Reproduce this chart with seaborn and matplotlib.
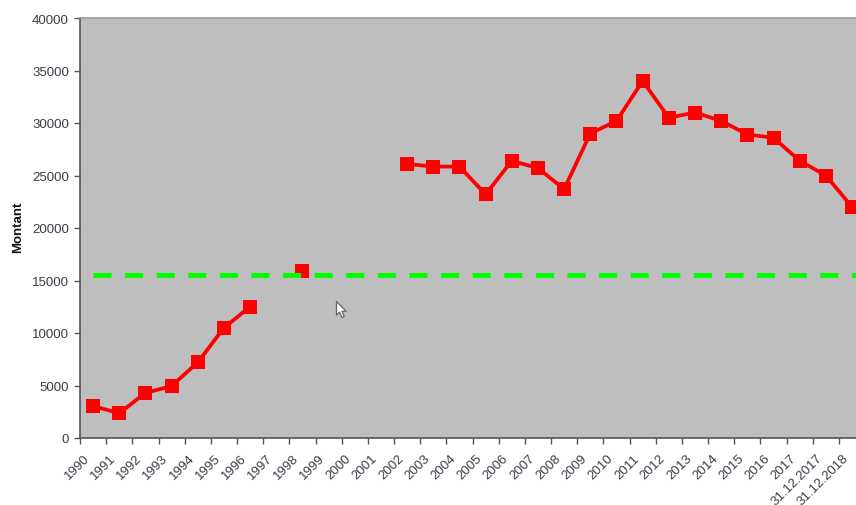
import numpy as np
import pandas as pd
import matplotlib
matplotlib.use("Agg")
import matplotlib.pyplot as plt
from matplotlib.path import Path
from matplotlib.ticker import MultipleLocator
from matplotlib.transforms import ScaledTranslation
import seaborn as sns

categories = [str(y) for y in range(1990, 2018)] + ["31.12.2017", "31.12.2018"]
montant = [3050, 2350, 4300, 4950, 7200, 10500, 12500, np.nan, 15900, np.nan,
           np.nan, np.nan, 26100, 25850, 25850, 23200, 26400, 25700, 23700, 29000,
           30200, 34000, 30500, 31000, 30200, 28900, 28600, 26400, 25000, 22000]
# the reference line runs on past the cropped right edge, hence one extra value
moyenne = [15520] * 31

sns.set_theme(style="white", rc={"font.family": ["Liberation Sans", "DejaVu Sans"]})
W, H = 856, 506
fig = plt.figure(figsize=(W / 100, H / 100), dpi=100)
ax = fig.add_axes([80 / W, 1 - 439 / H, 776 / W, 420 / H])
ax.set_facecolor("#BEBEBE")

pos = np.arange(len(categories)) + 0.5
df = pd.DataFrame({"pos": pos, "montant": montant})
df["segment"] = df["montant"].isna().cumsum()
valid = df.dropna(subset=["montant"])
df_moy = pd.DataFrame({"pos": np.arange(len(moyenne)) + 0.5, "moyenne": moyenne})

sns.lineplot(data=valid, x="pos", y="montant", units="segment", estimator=None,
             color="#FF0000", linewidth=2.7, marker="s", markersize=10.5,
             markeredgewidth=0, ax=ax, zorder=3, legend=False)
sns.lineplot(data=df_moy, x="pos", y="moyenne", color="#00FF00", linewidth=3.6,
             estimator=None, ax=ax, zorder=4, legend=False,
             linestyle=(0, (3.6, 2.72)), dash_capstyle="butt")

# mouse pointer visible in the screenshot
cursor = Path([(0, 0), (0, -14), (3.2, -11), (5.6, -16.5), (8, -15.5), (5.6, -10.2), (10, -10), (0, 0)], closed=True)
ax.plot([9.78], [13050], marker=cursor, markersize=23, markerfacecolor="white",
        markeredgecolor="#666666", markeredgewidth=0.9, zorder=5, clip_on=False)

ax.set_xlim(0, 776 / 26.17)
ax.set_ylim(0, 40000)
ax.yaxis.set_major_locator(MultipleLocator(5000))
ax.set_xticks(np.arange(len(categories)))
ax.set_xticklabels(categories, rotation=45, ha="right", rotation_mode="anchor")
ax.tick_params(axis="both", which="major", direction="out", length=4, width=1,
               color="#555555", labelcolor="#3C3C48", labelsize=9.5,
               left=True, bottom=True)
ax.tick_params(axis="x", pad=6)
ax.tick_params(axis="y", pad=4)
shift = ScaledTranslation(3.5 / 100, 0, fig.dpi_scale_trans)
for lab in ax.get_xticklabels():
    lab.set_transform(lab.get_transform() + shift)
ax.set_xlabel("")
ax.set_ylabel("Montant", fontweight="bold", fontsize=9.5, color="#111111")
ax.yaxis.set_label_coords((24 - 80) / 776, 1 - (226 - 18) / 420)

for side in ("left", "bottom"):
    ax.spines[side].set_color("#555555")
    ax.spines[side].set_linewidth(1.2)
ax.spines["top"].set_color("#9A9A9A")
ax.spines["top"].set_linewidth(1.2)
ax.spines["right"].set_visible(False)

fig.savefig("out.png", dpi=100)
